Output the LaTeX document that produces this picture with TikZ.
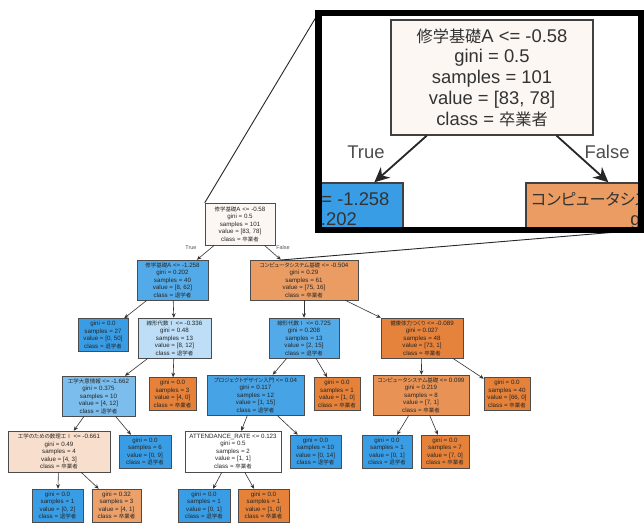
\documentclass[tikz,border=0pt]{standalone}
\usepackage{fontspec}
\setmainfont{Liberation Sans}
\newfontfamily\jpf[RawFeature={+palt},Scale=0.88]{Noto Sans CJK JP}
\newcommand\J[1]{{\jpf #1}}
\usetikzlibrary{arrows.meta}
\definecolor{rootc}{RGB}{253,247,243}
\definecolor{blc}{RGB}{57,157,229}
\definecolor{orc}{RGB}{229,129,57}
\definecolor{cA}{RGB}{83,170,232}
\definecolor{cB}{RGB}{234,156,99}
\definecolor{cC}{RGB}{189,222,246}
\definecolor{cD}{RGB}{229,130,60}
\definecolor{cE}{RGB}{123,190,238}
\definecolor{cF}{RGB}{70,163,230}
\definecolor{cG}{RGB}{232,147,85}
\definecolor{cH}{RGB}{248,223,205}
\definecolor{cI}{RGB}{236,161,107}
\tikzset{
  tn/.style={draw=black!70, line width=0.5pt, inner sep=0pt, align=center,
    font=\fontsize{6.2}{7.5}\selectfont, text=black!85},
  lf/.style={tn, minimum height=33pt},
  big/.style={draw=black!75, line width=1.4pt, inner sep=0pt, align=center,
    font=\fontsize{18.4}{20.8}\selectfont, text=black!80, minimum height=115pt},
  ed/.style={-{Stealth[length=4.5pt,width=3.8pt]}, line width=0.6pt, draw=black!80},
  bed/.style={-{Stealth[length=15pt,width=14pt]}, line width=1.8pt, draw=black!85},
  elab/.style={font=\fontsize{5.5}{6}\selectfont, text=black!65},
  blab/.style={font=\fontsize{18.4}{20}\selectfont, text=black!70},
  mag/.style={line width=0.9pt, draw=black!85}
}
\begin{document}
\begin{tikzpicture}[x=1pt,y=-1pt]
\useasboundingbox (0,0) rectangle (644,522);
\fill[white] (0,0) rectangle (644,522);

% level 0
\node[tn, fill=rootc, minimum width=70pt, minimum height=42pt] (n0) at (240,224)
  {\J{修学基礎}A <= -0.58\\gini = 0.5\\samples = 101\\value = [83, 78]\\class = \J{卒業者}};
% level 1
\node[tn, fill=cA, minimum width=71pt, minimum height=40pt] (n1) at (172.5,280)
  {\J{修学基礎}A <= -1.258\\gini = 0.202\\samples = 40\\value = [8, 62]\\class = \J{退学者}};
\node[tn, fill=cB, minimum width=108pt, minimum height=40pt] (n2) at (304,280)
  {\J{コンピュータシステム基礎} <= -0.504\\gini = 0.29\\samples = 61\\value = [75, 16]\\class = \J{卒業者}};
% level 2
\node[lf, fill=blc, minimum width=50pt] (n3) at (103,335)
  {gini = 0.0\\samples = 27\\value = [0, 50]\\class = \J{退学者}};
\node[tn, fill=cC, minimum width=73pt, minimum height=40pt] (n4) at (174.5,338)
  {\J{線形代数Ⅰ} <= -0.336\\gini = 0.48\\samples = 13\\value = [8, 12]\\class = \J{退学者}};
\node[tn, fill=cA, minimum width=70pt, minimum height=40pt] (n5) at (304,338)
  {\J{線形代数Ⅰ} <= 0.725\\gini = 0.208\\samples = 13\\value = [2, 15]\\class = \J{退学者}};
\node[tn, fill=cD, minimum width=82pt, minimum height=40pt] (n6) at (422,338)
  {\J{健康体力つくり} <= -0.089\\gini = 0.027\\samples = 48\\value = [73, 1]\\class = \J{卒業者}};
% level 3
\node[tn, fill=cE, minimum width=73pt, minimum height=40pt] (n7) at (98.5,396)
  {\J{工学大意情報} <= -1.662\\gini = 0.375\\samples = 10\\value = [4, 12]\\class = \J{退学者}};
\node[lf, fill=orc, minimum width=47pt] (n8) at (172.5,394)
  {gini = 0.0\\samples = 3\\value = [4, 0]\\class = \J{卒業者}};
\node[tn, fill=cF, minimum width=97pt, minimum height=40pt] (n9) at (255.5,395)
  {\J{プロジェクトデザイン入門} <= 0.04\\gini = 0.117\\samples = 12\\value = [1, 15]\\class = \J{退学者}};
\node[lf, fill=orc, minimum width=46pt] (n10) at (337,394)
  {gini = 0.0\\samples = 1\\value = [1, 0]\\class = \J{卒業者}};
\node[tn, fill=cG, minimum width=96pt, minimum height=40pt] (n11) at (421,395)
  {\J{コンピュータシステム基礎} <= 0.099\\gini = 0.219\\samples = 8\\value = [7, 1]\\class = \J{卒業者}};
\node[lf, fill=orc, minimum width=46pt] (n12) at (507,394)
  {gini = 0.0\\samples = 40\\value = [66, 0]\\class = \J{卒業者}};
% level 4
\node[tn, fill=cH, minimum width=102pt, minimum height=41pt] (n13) at (59,451.5)
  {\J{工学のための数理工Ⅰ} <= -0.661\\gini = 0.49\\samples = 4\\value = [4, 3]\\class = \J{卒業者}};
\node[lf, fill=blc, minimum width=52pt] (n14) at (145,451.5)
  {gini = 0.0\\samples = 6\\value = [0, 9]\\class = \J{退学者}};
\node[tn, fill=white, minimum width=96pt, minimum height=41pt] (n15) at (233,451.5)
  {ATTENDANCE\_RATE <= 0.123\\gini = 0.5\\samples = 2\\value = [1, 1]\\class = \J{卒業者}};
\node[lf, fill=blc, minimum width=51pt] (n16) at (315.5,451.5)
  {gini = 0.0\\samples = 10\\value = [0, 14]\\class = \J{退学者}};
\node[lf, fill=blc, minimum width=50pt] (n17) at (387,451.5)
  {gini = 0.0\\samples = 1\\value = [0, 1]\\class = \J{退学者}};
\node[lf, fill=orc, minimum width=48pt] (n18) at (445,451.5)
  {gini = 0.0\\samples = 7\\value = [7, 0]\\class = \J{卒業者}};
% level 5
\node[lf, fill=blc, minimum width=51pt] (n19) at (57.5,505.5)
  {gini = 0.0\\samples = 1\\value = [0, 2]\\class = \J{退学者}};
\node[lf, fill=cI, minimum width=49pt] (n20) at (116.5,505.5)
  {gini = 0.32\\samples = 3\\value = [4, 1]\\class = \J{卒業者}};
\node[lf, fill=blc, minimum width=52pt] (n21) at (204,505.5)
  {gini = 0.0\\samples = 1\\value = [0, 1]\\class = \J{退学者}};
\node[lf, fill=orc, minimum width=51pt] (n22) at (263.5,505.5)
  {gini = 0.0\\samples = 1\\value = [1, 0]\\class = \J{卒業者}};

% edges
\draw[ed] (n0) -- (n1);
\draw[ed] (n0) -- (n2);
\node[elab] (tl) at (191,247.5) {True};
\node[elab] (fl) at (283,247.5) {False};
\foreach \a/\b in {n1/n3,n1/n4,n2/n5,n2/n6,n4/n7,n4/n8,n5/n9,n5/n10,n6/n11,n6/n12,
  n7/n13,n7/n14,n9/n15,n9/n16,n11/n17,n11/n18,n13/n19,n13/n20,n15/n21,n15/n22}
  \draw[ed] (\a) -- (\b);

% magnifier lines
\coordinate (zb) at (281,260);
\coordinate (fnw) at (318.5,13);
\coordinate (fse) at (641,230);
\draw[mag] (n0.north west) -- (fnw);
\draw[mag] (zb) -- (fse);

% inset
\begin{scope}
\clip (322,16.5) rectangle (638,226.5);
\fill[white] (322,16.5) rectangle (638,226.5);
\node[big, fill=rootc, minimum width=202pt] (b0) at (492,77.5)
  {\J{修学基礎}A <= -0.58\\gini = 0.5\\samples = 101\\value = [83, 78]\\class = \J{卒業者}};
\node[big, fill=blc, minimum width=188pt] (b1) at (309,240.5)
  {\J{修学基礎}A <= -1.258\\gini = 0.202\\samples = 40\\value = [8, 62]\\class = \J{退学者}};
\node[big, fill=cB, minimum width=294pt] (b2) at (673,240.5)
  {\J{コンピュータシステム基礎} <= -0.504\hspace*{20pt}\\gini = 0.29\\samples = 61\\value = [75, 16]\\class = \J{卒業者}};
\draw[bed] (b0) -- (b1);
\draw[bed] (b0) -- (b2);
\node[blab] (bt) at (366,152) {True};
\node[blab] (bf) at (607,152) {False};
\end{scope}
\draw[line width=6.5pt, draw=black] (fnw) rectangle (fse);
\end{tikzpicture}
\end{document}
